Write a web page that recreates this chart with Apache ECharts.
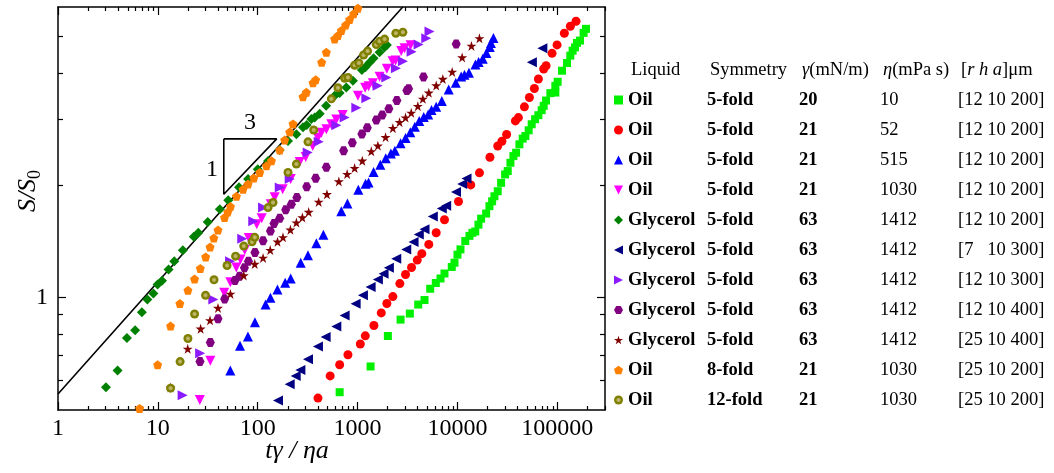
<!DOCTYPE html>
<html>
<head>
<meta charset="utf-8">
<script src="https://cdn.jsdelivr.net/npm/echarts@6/dist/echarts.min.js"></script>
<style>
  html, body { margin: 0; padding: 0; background: #fff; }
  #chart { width: 1054px; height: 473px; }
</style>
</head>
<body>
<div id="chart"></div>
<script>
// table rows of the legend
const liquids = ['Oil', 'Oil', 'Oil', 'Oil', 'Glycerol', 'Glycerol', 'Glycerol', 'Glycerol', 'Glycerol', 'Oil', 'Oil'];
const symmetries = ['5-fold', '5-fold', '5-fold', '5-fold', '5-fold', '5-fold', '5-fold', '5-fold', '5-fold', '8-fold', '12-fold'];
const gammas = ['20', '21', '21', '21', '63', '63', '63', '63', '63', '21', '21'];
const etas = ['10', '52', '515', '1030', '1412', '1412', '1412', '1412', '1412', '1030', '1030'];
const rhas = ['[12 10 200]', '[12 10 200]', '[12 10 200]', '[12 10 200]', '[12 10 200]', '[7   10 300]',
  '[12 10 300]', '[12 10 400]', '[25 10 400]', '[25 10 200]', '[25 10 200]'];

// tick labels
const xMajor = [1, 10, 100, 1000, 10000, 100000];
const yMajor = [1];
const yMinor = [0.6, 0.7, 0.8, 0.9, 2, 3, 4, 5];

// measured points [t*gamma/(eta*a), S/S0]
const oilEta10 = [[661, 0.558], [1349, 0.654], [2009, 0.789], [2692, 0.873], [3334, 0.906], [4046, 0.958],
  [4677, 0.985], [5333, 1.056], [6067, 1.094], [6761, 1.125], [7413, 1.16], [8770, 1.208], [9333, 1.24],
  [10000, 1.303], [10715, 1.346], [11967, 1.417], [13183, 1.463], [14125, 1.491], [15066, 1.503],
  [16218, 1.568], [17258, 1.627], [19364, 1.679], [20893, 1.757], [22233, 1.811], [23442, 1.868],
  [25293, 1.927], [27353, 2.029], [29992, 2.137], [31842, 2.182], [33884, 2.296], [36308, 2.393],
  [38637, 2.443], [41687, 2.573], [44978, 2.665], [47863, 2.709], [51642, 2.806], [55335, 2.912],
  [59841, 3.004], [64565, 3.079], [69663, 3.176], [72946, 3.262], [77090, 3.371], [85114, 3.528],
  [95499, 3.541], [95499, 3.69], [100700, 3.784], [111400, 4.051], [125000, 4.248], [134900, 4.446],
  [142200, 4.584], [150300, 4.678], [157400, 4.808], [168700, 4.878], [183200, 5.115], [193600, 5.244]];
const oilEta52 = [[401, 0.538], [531, 0.617], [661, 0.661], [800, 0.703], [1064, 0.751], [1194, 0.79],
  [1456, 0.842], [1726, 0.91], [1963, 0.964], [2254, 1.006], [2648, 1.09], [3020, 1.153], [3467, 1.204],
  [3954, 1.26], [4395, 1.311], [5164, 1.388], [6124, 1.492], [7413, 1.616], [10233, 1.809], [13583, 2.003],
  [16596, 2.158], [21135, 2.376], [25293, 2.546], [27861, 2.623], [31046, 2.734], [38019, 2.972],
  [40738, 3.034], [46774, 3.242], [52481, 3.434], [58884, 3.631], [64565, 3.848], [72946, 4.093],
  [77090, 4.178], [88510, 4.509], [99300, 4.75], [117500, 5.104], [134900, 5.33], [153800, 5.496]];
const oilEta515 = [[53.1, 0.638], [66.4, 0.743], [79.8, 0.787], [93.8, 0.859], [119.7, 0.958], [134, 0.999],
  [157.4, 1.051], [188.4, 1.095], [213.8, 1.125], [269.2, 1.24], [318.4, 1.299], [386.4, 1.397], [453.9, 1.474],
  [687, 1.703], [791, 1.787], [1016, 1.945], [1202, 2.019], [1288, 2.032], [1445, 2.168], [1687, 2.268],
  [1914, 2.36], [2153, 2.431], [2360, 2.474], [2692, 2.591], [3020, 2.676], [3373, 2.772], [3741, 2.868],
  [4140, 2.969], [4592, 3.043], [5093, 3.094], [5495, 3.178], [6124, 3.246], [6966, 3.36], [8166, 3.606],
  [9616, 3.761], [10890, 3.91], [11749, 3.952], [13030, 4.001], [15136, 4.212], [16293, 4.275],
  [17906, 4.363], [19498, 4.52], [21038, 4.691], [21627, 4.803], [22909, 4.954]];
const oilEta1030 = [[26.3, 0.532], [33.5, 0.677], [46.2, 1.031], [53.1, 1.099], [61, 1.204], [67.1, 1.265],
  [74.1, 1.342], [81.3, 1.445], [97.7, 1.571], [109.6, 1.631], [134.9, 1.778], [147.9, 1.857], [177.8, 1.951],
  [213.8, 2.076], [263, 2.306], [302, 2.379], [354.8, 2.546], [400.9, 2.681], [433.5, 2.765], [486.4, 2.824],
  [545.8, 2.912], [612.4, 3.0], [707.9, 3.085], [1007, 3.47], [1189, 3.646], [1288, 3.68], [1422, 3.749],
  [1660, 3.903], [1963, 4.102], [2239, 4.296], [2399, 4.317], [2735, 4.571], [2951, 4.656], [3388, 4.737]];
const glyA200 = [[3.02, 0.575], [3.95, 0.638], [4.9, 0.779], [5.92, 0.818], [6.92, 0.914], [7.85, 0.988],
  [9.02, 1.025], [9.93, 1.084], [11, 1.109], [12.8, 1.189], [14.6, 1.252], [17.8, 1.338], [22.9, 1.455],
  [25.4, 1.491], [31.6, 1.594], [41.7, 1.724], [50.7, 1.823], [64.9, 1.976], [80, 2.076], [100, 2.208],
  [126.8, 2.32], [166, 2.485], [201, 2.627], [243.8, 2.737], [283.8, 2.859], [309, 2.9], [344.4, 3.009],
  [371.5, 3.034], [416.9, 3.105], [484.2, 3.262], [588.8, 3.47], [660.7, 3.528], [770.9, 3.652],
  [897.5, 3.808], [1104, 4.069], [1194, 4.135], [1318, 4.264], [1445, 4.371], [1660, 4.537],
  [1862, 4.68], [1963, 4.75]];
const glyR7 = [[159.6, 0.53], [208.9, 0.586], [239.9, 0.617], [267.3, 0.64], [318.4, 0.684], [400.9, 0.74],
  [478.6, 0.784], [612.4, 0.837], [741.3, 0.895], [955, 0.962], [1130, 1.014], [1349, 1.068], [1596, 1.118],
  [1820, 1.158], [2056, 1.202], [2438, 1.271], [3069, 1.346], [3631, 1.408], [4102, 1.476], [4677, 1.523],
  [5662, 1.648], [6966, 1.731], [7709, 1.762], [9661, 1.919], [11140, 2.013], [12303, 2.085],
  [55590, 4.269], [70795, 4.656]];
const glyA300 = [[17.7, 0.548], [26.5, 0.71], [35.9, 0.988], [52.8, 1.252], [70, 1.438], [90.2, 1.601],
  [113, 1.742], [166, 1.972], [208.9, 2.076], [316.2, 2.446], [407.4, 2.615], [612, 2.894], [741.3, 3.034],
  [970.5, 3.222], [1222, 3.417], [1585, 3.692], [1936, 3.886], [2415, 4.115], [2838, 4.296], [3467, 4.556],
  [4074, 4.758], [4864, 4.947], [5248, 5.157]];
const glyA400 = [[26.4, 0.674], [33.5, 0.758], [40, 0.877], [46.6, 0.992], [59.2, 1.111], [65.8, 1.141],
  [73.6, 1.202], [80.7, 1.252], [93.8, 1.321], [113, 1.42], [134, 1.507], [145.5, 1.578], [166, 1.631],
  [190.5, 1.719], [217.3, 1.778], [246.6, 1.854], [309, 1.982], [380.2, 2.086], [486.4, 2.232], [724.4, 2.474],
  [885, 2.599], [1104, 2.743], [1250, 2.848], [1538, 2.99], [1766, 3.085], [2056, 3.202], [2472, 3.371],
  [3112, 3.585], [3236, 3.623], [4571, 3.896], [9705, 4.773]];
const glyR25 = [[13.4, 0.574], [19.9, 0.729], [26.8, 0.825], [33.3, 0.869], [40, 0.938], [53.3, 1.023],
  [72.4, 1.146], [93.3, 1.23], [113, 1.277], [133.4, 1.34], [157.8, 1.411], [179, 1.45], [212.3, 1.519],
  [243.8, 1.588], [279.9, 1.638], [323.6, 1.695], [407.4, 1.804], [493.2, 1.891], [648.6, 2.046],
  [785.2, 2.141], [933.3, 2.222], [1114, 2.325], [1371, 2.464], [1596, 2.551], [1905, 2.688], [2254, 2.842],
  [2630, 2.949], [3020, 3.034], [3443, 3.124], [4009, 3.256], [4498, 3.406], [5164, 3.535], [6124, 3.698],
  [7129, 3.848], [8851, 4.021], [11140, 4.395], [13804, 4.72], [16596, 4.945]];
const oil8fold = [[6.56, 0.505], [9.95, 0.661], [13.4, 0.839], [16.6, 0.964], [20, 1.046], [23.3, 1.121],
  [26.6, 1.197], [30.1, 1.285], [33.3, 1.365], [36.3, 1.443], [40, 1.516], [46.5, 1.638], [50.1, 1.695],
  [53.3, 1.753], [61.2, 1.868], [71.3, 1.951], [80, 2.013], [91.2, 2.089], [104.7, 2.164], [122.2, 2.254],
  [137.1, 2.325], [166, 2.485], [186.2, 2.642], [208.9, 2.777], [225.4, 2.918], [283.8, 3.449],
  [306.9, 3.546], [357.3, 3.761], [380.2, 3.831], [436.5, 4.269], [486.4, 4.537], [588.8, 4.928],
  [635.3, 5.03], [687.1, 5.189], [758.6, 5.367], [831.8, 5.554], [912, 5.754], [1007, 5.957]];
const oil12fold = [[13.4, 0.572], [16.7, 0.674], [20, 0.777], [23.3, 0.904], [30, 1.014], [36.5, 1.116],
  [49.3, 1.219], [60, 1.291], [72.4, 1.374], [87.7, 1.41], [93.3, 1.45], [126.8, 1.742], [142.2, 1.797],
  [201, 2.164], [243.8, 2.278], [318.4, 2.613], [363.1, 2.811], [545.8, 3.406], [635.3, 3.646],
  [741.3, 3.868], [800, 3.886], [933.3, 4.191], [1030, 4.248], [1148, 4.464], [1259, 4.571], [1538, 4.758],
  [1660, 4.857], [1862, 4.923], [2415, 5.104], [2838, 5.135]];

// guide line and the 1:3 slope triangle
const guideLine = [[1, 0.552], [2830, 6]];
const slopeTriangle = [[45.7, 2.66], [154.9, 2.66], [45.7, 1.891], [45.7, 2.66]];

const seriesData = [oilEta10, oilEta52, oilEta515, oilEta1030, glyA200, glyR7, glyA300, glyA400, glyR25, oil8fold, oil12fold];
const colors = ['#00f000', '#ff0000', '#0000ff', '#ff00ff', '#008000', '#000080', '#8c1aff', '#800080', '#800000', '#ff8000', '#808000'];
const symbols = [
  'rect',
  'circle',
  'triangle',
  'path://M-1,-1L1,-1L0,1Z',
  'path://M0,-1L1,0L0,1L-1,0Z',
  'path://M1,-1L1,1L-1,0Z',
  'path://M-1,-1L-1,1L1,0Z',
  'path://M-0.5,-0.87L0.5,-0.87L1,0L0.5,0.87L-0.5,0.87L-1,0Z',
  'path://M0,-1L0.224,-0.309L0.951,-0.309L0.363,0.118L0.588,0.809L0,0.382L-0.588,0.809L-0.363,0.118L-0.951,-0.309L-0.224,-0.309Z',
  'path://M0,-1L0.951,-0.309L0.588,0.809L-0.588,0.809L-0.951,-0.309Z',
  'circle'
];
const sizes = [8, 9, 10, 10, 10, 10, 10, 9, 10, 9, 9];

const FONT = 'Liberation Serif';

const minorTicks = (from, to) => {
  const out = [];
  for (let d = from; d < to; d *= 10) {
    for (let k = 2; k <= 9; k++) {
      if (d * k <= to) out.push(d * k);
    }
  }
  return out;
};
const xMinor = minorTicks(1, 300000);

const makeXAxis = (position, ticks, len, showLine, labels) => ({
  type: 'log',
  logBase: 10,
  min: 1,
  max: 300000,
  position: position,
  axisLine: {show: showLine, onZero: false, lineStyle: {color: '#000', width: 1.5}},
  axisTick: {inside: true, length: len, customValues: ticks, lineStyle: {color: '#000', width: 1.2}},
  axisLabel: labels ? {
    customValues: xMajor, color: '#000', fontFamily: FONT, fontSize: 24, margin: 7,
    formatter: v => String(Math.round(v)),
  } : {show: false},
  splitLine: {show: false},
});
const makeYAxis = (position, ticks, len, showLine, labels) => ({
  type: 'log',
  logBase: 10,
  min: 0.5,
  max: 6,
  position: position,
  axisLine: {show: showLine, onZero: false, lineStyle: {color: '#000', width: 1.5}},
  axisTick: {inside: true, length: len, customValues: ticks, lineStyle: {color: '#000', width: 1.2}},
  axisLabel: labels ? {
    customValues: yMajor, color: '#000', fontFamily: FONT, fontSize: 24, margin: 10,
    formatter: v => String(v),
  } : {show: false},
  splitLine: {show: false},
});

const series = seriesData.map((data, i) => {
  let color = colors[i];
  if (i === 10) {
    color = {
      type: 'radial', x: 0.5, y: 0.5, r: 0.5,
      colorStops: [{offset: 0, color: '#c9c27a'}, {offset: 0.4, color: '#b0a850'}, {offset: 0.55, color: '#808000'}, {offset: 1, color: '#808000'}],
    };
  }
  return {
    name: 'S' + i,
    type: 'scatter',
    data: data,
    symbol: symbols[i],
    symbolSize: sizes[i],
    itemStyle: {color: color, opacity: 1},
    xAxisIndex: 0,
    yAxisIndex: 0,
  };
});
series.push({
  type: 'line',
  data: guideLine,
  showSymbol: false,
  symbol: 'none',
  silent: true,
  lineStyle: {color: '#000', width: 1.6},
  z: 1,
});
series.push({
  type: 'line',
  data: slopeTriangle,
  showSymbol: false,
  symbol: 'none',
  silent: true,
  lineStyle: {color: '#000', width: 1.6},
});

const textBase = {fontFamily: FONT, fill: '#000'};
const headerY = 70;
const TS = 18.5;
const option = {
  animation: false,
  grid: {left: 58, right: 449, top: 7, bottom: 63},
  xAxis: [
    makeXAxis('bottom', xMajor, 8, true, true),
    makeXAxis('bottom', xMinor, 4, false, false),
    makeXAxis('top', xMajor, 8, true, false),
    makeXAxis('top', xMinor, 4, false, false),
  ],
  yAxis: [
    makeYAxis('left', yMajor, 8, true, true),
    makeYAxis('left', yMinor, 5, false, false),
    makeYAxis('right', yMajor, 8, true, false),
    makeYAxis('right', yMinor, 5, false, false),
  ],
  legend: {
    data: seriesData.map((d, i) => 'S' + i),
    orient: 'vertical',
    left: 614,
    top: 90,
    padding: 0,
    itemGap: 10,
    itemWidth: 9,
    itemHeight: 9,
    itemTextGap: 11,
    selectedMode: false,
    formatter: name => {
      const i = parseInt(name.slice(1), 10);
      return '{a|' + liquids[i] + '}{b|' + symmetries[i] + '}{c|' + gammas[i] + '}{d|' + etas[i] + '}{e|' + rhas[i] + '}';
    },
    textStyle: {
      fontFamily: FONT,
      fontSize: TS,
      lineHeight: 20,
      color: '#000',
      rich: {
        a: {width: 79, fontWeight: 'bold', fontFamily: FONT, fontSize: TS, lineHeight: 20},
        b: {width: 92, fontWeight: 'bold', fontFamily: FONT, fontSize: TS, lineHeight: 20},
        c: {width: 81, fontWeight: 'bold', fontFamily: FONT, fontSize: TS, lineHeight: 20},
        d: {width: 78, fontFamily: FONT, fontSize: TS, lineHeight: 20},
        e: {fontFamily: FONT, fontSize: TS, lineHeight: 20},
      },
    },
  },
  graphic: [
    {type: 'text', x: 631, y: headerY, style: Object.assign({text: 'Liquid', fontSize: TS, verticalAlign: 'middle'}, textBase)},
    {type: 'text', x: 710, y: headerY, style: Object.assign({text: 'Symmetry', fontSize: TS, verticalAlign: 'middle'}, textBase)},
    {type: 'text', x: 802, y: headerY, style: Object.assign({
      text: '{i|γ}(mN/m)', fontSize: TS, verticalAlign: 'middle',
      rich: {i: {fontStyle: 'italic', fontFamily: FONT, fontSize: TS}},
    }, textBase)},
    {type: 'text', x: 883, y: headerY, style: Object.assign({
      text: '{i|η}(mPa s)', fontSize: TS, verticalAlign: 'middle',
      rich: {i: {fontStyle: 'italic', fontFamily: FONT, fontSize: TS}},
    }, textBase)},
    {type: 'text', x: 961, y: headerY, style: Object.assign({
      text: '[{i|r h a}]μm', fontSize: TS, verticalAlign: 'middle',
      rich: {i: {fontStyle: 'italic', fontFamily: FONT, fontSize: TS}},
    }, textBase)},
    {type: 'text', x: 297, y: 451, style: Object.assign({
      text: 'tγ / ηa', fontSize: 26, fontStyle: 'italic', align: 'center', verticalAlign: 'middle',
    }, textBase)},
    {type: 'text', x: 28, y: 191, rotation: Math.PI / 2, style: Object.assign({
      text: '{i|S/S}{s|0}', align: 'center', verticalAlign: 'middle',
      rich: {
        i: {fontStyle: 'italic', fontFamily: FONT, fontSize: 26},
        s: {fontFamily: FONT, fontSize: 18, padding: [14, 0, 0, 0]},
      },
    }, textBase)},
    {type: 'text', x: 250, y: 123, style: Object.assign({text: '3', fontSize: 24, align: 'center', verticalAlign: 'middle'}, textBase)},
    {type: 'text', x: 212, y: 170, style: Object.assign({text: '1', fontSize: 24, align: 'center', verticalAlign: 'middle'}, textBase)},
  ],
  series: series,
};

const chart = echarts.init(document.getElementById('chart'));
chart.setOption(option);
</script>
</body>
</html>
